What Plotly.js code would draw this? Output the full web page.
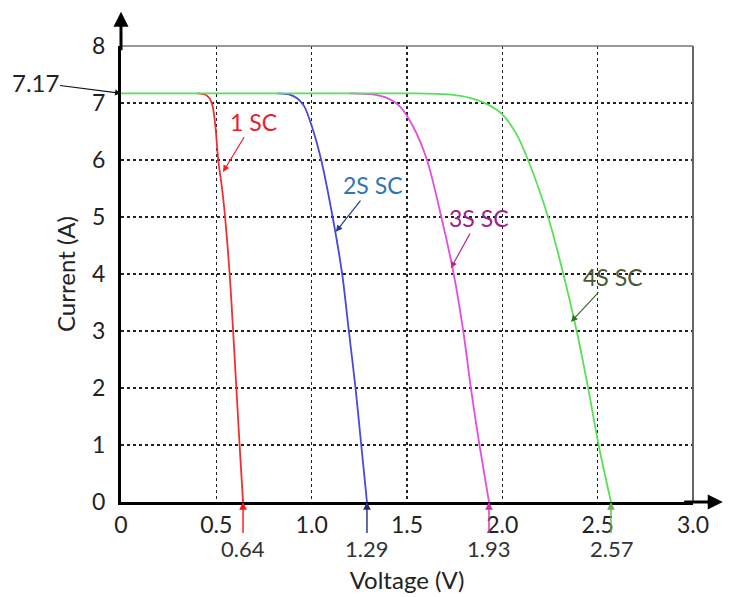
<!DOCTYPE html>
<html>
<head>
<meta charset="utf-8">
<script src="https://cdn.plot.ly/plotly-3.0.1.min.js"></script>
<style>html,body{margin:0;padding:0;background:#fff;}#chart{width:729px;height:597px;}</style>
</head>
<body>
<div id="chart"></div>
<script>
// ---- data ----
const v1 = [0.40, 0.44, 0.465, 0.48, 0.495, 0.51, 0.53, 0.546, 0.57, 0.588, 0.605, 0.622, 0.64];
const i1 = [7.17, 7.15, 7.08, 6.95, 6.60, 6.00, 5.50, 5.00, 4.00, 3.00, 2.00, 1.00, 0];

const v2 = [0.82, 0.88, 0.925, 0.96, 1.00, 1.05, 1.11, 1.16, 1.195, 1.23, 1.26, 1.29];
const i2 = [7.17, 7.15, 7.08, 6.95, 6.60, 6.00, 5.00, 4.00, 3.00, 2.00, 1.00, 0];

const v3 = [1.20, 1.32, 1.40, 1.46, 1.53, 1.605, 1.68, 1.745, 1.795, 1.835, 1.88, 1.93];
const i3 = [7.17, 7.15, 7.08, 6.95, 6.60, 6.00, 5.00, 4.00, 3.00, 2.00, 1.00, 0];

const v4 = [0, 1.50, 1.72, 1.83, 1.92, 2.00, 2.07, 2.135, 2.24, 2.32, 2.39, 2.45, 2.505, 2.57];
const i4 = [7.17, 7.17, 7.15, 7.09, 6.98, 6.80, 6.48, 6.00, 5.00, 4.00, 3.00, 2.00, 1.00, 0];

const seriesNames = ["1 SC", "2S SC", "3S SC", "4S SC"];
const vocValues = [0.64, 1.29, 1.93, 2.57];
const iscValue = 7.17;

const xTickVals = [0, 0.5, 1.0, 1.5, 2.0, 2.5, 3.0];
const xTickText = ["0", "0.5", "1.0", "1.5", "2.0", "2.5", "3.0"];
const yTickVals = [0, 1, 2, 3, 4, 5, 6, 7, 8];
const yTickText = ["0", "1", "2", "3", "4", "5", "6", "7", "8"];

// ---- styling ----
const FONT = "Lato, 'Open Sans', sans-serif";
const curveColors = ["#f03030", "#4848e0", "#e050e0", "#58e058"];
const labelColors = ["#e8202a", "#2e75b6", "#a0208a", "#4a5a30"];
const arrowColors = ["#e8202a", "#1f3d8a", "#b03090", "#3c6a2c"];
const vocArrowColors = ["#ff1010", "#1f2f7a", "#d030b0", "#70b050"];

const vs = [v1, v2, v3, v4], is = [i1, i2, i3, i4];
const traces = vs.map((v, k) => ({
  x: v, y: is[k], type: "scatter", mode: "lines", name: seriesNames[k],
  line: {color: curveColors[k], width: 1.8, shape: "spline", smoothing: 0.8},
  hoverinfo: "skip"
}));

// label placement (text center, arrow head) in data coordinates
const labelPos = [
  {tx: 0.695, ty: 6.67, hx: 0.535, hy: 5.79},
  {tx: 1.32, ty: 5.56, hx: 1.127, hy: 4.74},
  {tx: 1.875, ty: 4.98, hx: 1.730, hy: 4.10},
  {tx: 2.58, ty: 3.95, hx: 2.360, hy: 3.16}
];

const annotations = [];
seriesNames.forEach((n, k) => {
  const p = labelPos[k];
  annotations.push({
    x: p.hx, y: p.hy, xref: "x", yref: "y",
    ax: p.tx, ay: p.ty, axref: "x", ayref: "y",
    text: n, showarrow: true, arrowhead: 2, arrowsize: 1.1, arrowwidth: 1.2,
    arrowcolor: arrowColors[k],
    font: {family: FONT, size: 23, color: labelColors[k]}
  });
});
vocValues.forEach((v, k) => {
  annotations.push({
    x: v, y: 0, xref: "x", yref: "y", ax: 0, ay: 46,
    text: String(v.toFixed(2)), showarrow: true, arrowhead: 2, arrowsize: 1.1, arrowwidth: 1.4,
    arrowcolor: vocArrowColors[k],
    font: {family: FONT, size: 22, color: "#333"}
  });
});
annotations.push({
  x: 0, y: iscValue, xref: "x", yref: "y", ax: -86, ay: -11,
  text: String(iscValue), showarrow: true, arrowhead: 2, arrowsize: 1, arrowwidth: 1.2,
  arrowcolor: "#111", font: {family: FONT, size: 24, color: "#222"}
});
// axis arrow heads
annotations.push({
  x: 1.052, y: 0, xref: "paper", yref: "y", ax: -40, ay: 0,
  text: "", showarrow: true, arrowhead: 2, arrowsize: 1, arrowwidth: 3, arrowcolor: "#000"
});
annotations.push({
  x: 0, y: 1.075, xref: "x", yref: "paper", ax: 0, ay: 40,
  text: "", showarrow: true, arrowhead: 2, arrowsize: 1, arrowwidth: 3, arrowcolor: "#000"
});

const layout = {
  width: 729, height: 597,
  margin: {l: 121, r: 36, t: 46, b: 95},
  paper_bgcolor: "#fff", plot_bgcolor: "#fff",
  showlegend: false,
  font: {family: FONT, color: "#222"},
  xaxis: {
    range: [0, 3.0], tickvals: xTickVals, ticktext: xTickText,
    showgrid: true, gridcolor: "#222", gridwidth: 1.5, griddash: "3px,3px",
    zeroline: false, showline: true, linecolor: "#000", linewidth: 3,
    ticks: "", tickfont: {family: FONT, size: 23, color: "#222"},
    title: {text: "Voltage (V)", font: {family: FONT, size: 24, color: "#222"}, standoff: 36}
  },
  yaxis: {
    range: [0, 8.0], tickvals: yTickVals, ticktext: yTickText,
    showgrid: true, gridcolor: "#222", gridwidth: 1.5, griddash: "3px,3px",
    zeroline: false, showline: true, linecolor: "#000", linewidth: 3,
    ticks: "", ticklabelstandoff: 8, tickfont: {family: FONT, size: 23, color: "#222"},
    title: {text: "Current (A)", font: {family: FONT, size: 24, color: "#222"}, standoff: 10}
  },
  shapes: [
    {type: "line", xref: "paper", yref: "paper", x0: 0, x1: 1, y0: 1, y1: 1, line: {color: "#777", width: 1.6}},
    {type: "line", xref: "paper", yref: "paper", x0: 1, x1: 1, y0: 0, y1: 1, line: {color: "#666", width: 2}}
  ],
  annotations: annotations
};

Plotly.newPlot("chart", traces, layout, {displayModeBar: false, staticPlot: true});
</script>
</body>
</html>
